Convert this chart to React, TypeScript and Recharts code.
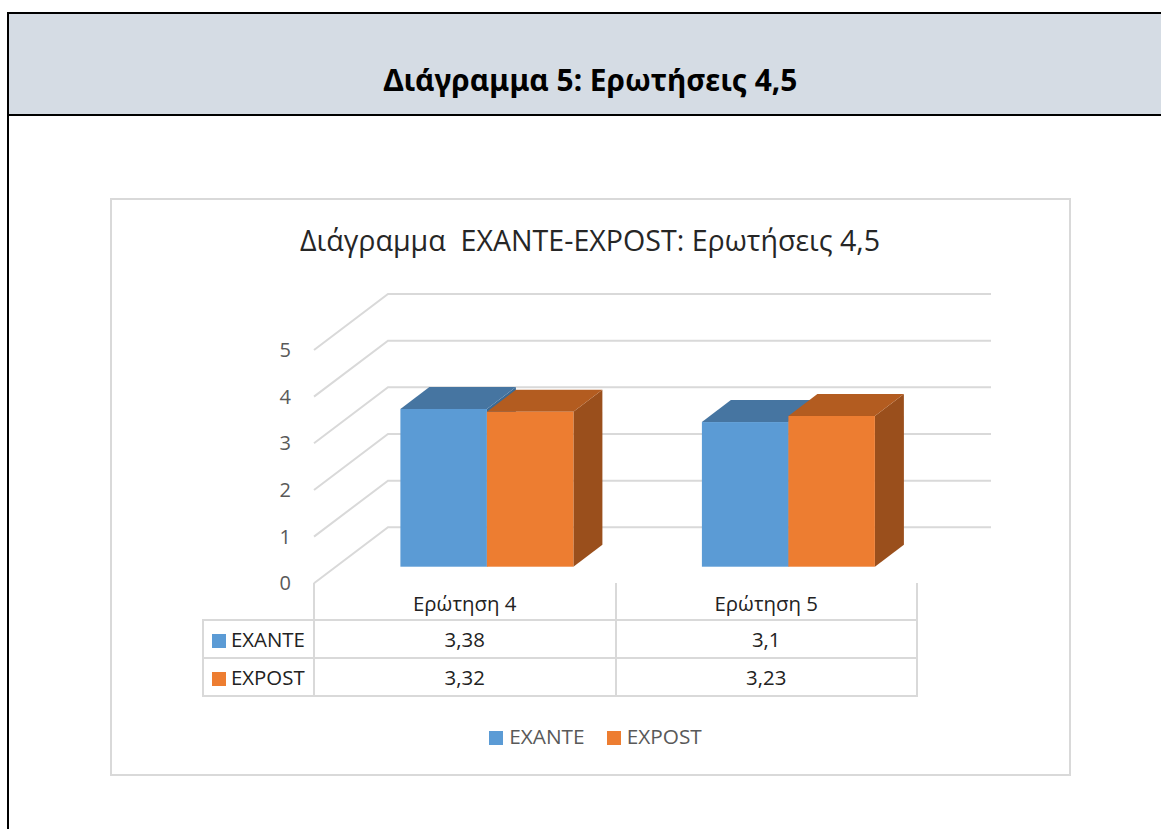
import React from 'react'
import { BarChart, Bar, XAxis, YAxis, CartesianGrid, Legend } from 'recharts'

const categories = ['Ερώτηση 4', 'Ερώτηση 5']
const exante = [3.38, 3.1]
const expost = [3.32, 3.23]
const yTicks = [0, 1, 2, 3, 4, 5]

const data = categories.map((name, i) => ({ name, EXANTE: exante[i], EXPOST: expost[i] }))

const BLUE = '#5B9BD5'
const ORANGE = '#ED7D31'
const FONT = '"Open Sans", sans-serif'
const GRID = '#d9d9d9'

// fake 3D: bars sit a little inside the floor, back wall is offset from the front axis
const BAR_DX = 22.4
const BAR_DY = -16.6
const DEPTH_X = 29
const DEPTH_Y = -22
const WALL_X = 74
const WALL_Y = -56

const makeBox = (front: string, top: string, side: string) => (props: any) => {
  const x = props.x + BAR_DX
  const y = props.y + BAR_DY
  const { width: w, height: h } = props
  return (
    <g>
      <path d={`M${x + w},${y} l${DEPTH_X},${DEPTH_Y} v${h} l${-DEPTH_X},${-DEPTH_Y} z`} fill={side} />
      <path d={`M${x},${y} l${DEPTH_X},${DEPTH_Y} h${w} l${-DEPTH_X},${-DEPTH_Y} z`} fill={top} />
      <rect x={x} y={y} width={w} height={h} fill={front} />
    </g>
  )
}

const wallLine = (props: any) => {
  const { x1, y1, x2 } = props
  return (
    <polyline
      key={props.key ?? y1}
      points={`${x1},${y1} ${x1 + WALL_X},${y1 + WALL_Y} ${x2 + WALL_X},${y1 + WALL_Y}`}
      fill="none"
      stroke={GRID}
      strokeWidth={2}
    />
  )
}

const cell: React.CSSProperties = { border: `2px solid ${GRID}`, padding: 0, textAlign: 'center' }
const swatch = (color: string): React.CSSProperties => ({
  display: 'inline-block',
  width: 14,
  height: 14,
  background: color,
  marginLeft: 8,
  marginRight: 5,
  verticalAlign: -1,
})

const rows = [
  { label: 'EXANTE', color: BLUE, values: exante },
  { label: 'EXPOST', color: ORANGE, values: expost },
]

export default function App() {
  return (
    <div style={{ position: 'absolute', left: 0, top: 0, width: 1161, height: 829, overflow: 'hidden', background: '#fff', fontFamily: FONT }}>
      <div
        style={{
          position: 'absolute',
          left: 7,
          top: 12,
          width: 1160,
          height: 100,
          background: '#D5DCE4',
          borderTop: '2px solid #000',
          borderBottom: '2px solid #000',
          borderLeft: '2px solid #000',
        }}
      />
      <div style={{ position: 'absolute', left: 7, top: 12, width: 2, height: 817, background: '#000' }} />
      <div style={{ position: 'absolute', left: 0, width: 1181, top: 62, textAlign: 'center', fontFamily: '"Noto Sans", sans-serif', fontWeight: 700, fontSize: 29.9, lineHeight: '36px', color: '#000' }}>
        Διάγραμμα 5: Ερωτήσεις 4,5
      </div>

      <div style={{ position: 'absolute', left: 110, top: 198, width: 957, height: 574, border: `2px solid ${GRID}` }} />
      <div style={{ position: 'absolute', left: 110, width: 960, top: 218, textAlign: 'center', fontSize: 28.6, lineHeight: '44px', color: '#262626', whiteSpace: 'pre' }}>
        Διάγραμμα  EXANTE-EXPOST: Ερωτήσεις 4,5
      </div>

      <table style={{ position: 'absolute', left: 202, top: 583, width: 714, borderCollapse: 'collapse', tableLayout: 'fixed', fontSize: 20.4, color: '#222' }}>
        <colgroup>
          <col style={{ width: 111 }} />
          <col style={{ width: 301.5 }} />
          <col style={{ width: 301.5 }} />
        </colgroup>
        <tbody>
          <tr style={{ height: 37 }}>
            <td style={{ ...cell, borderTop: 'none', borderLeft: 'none' }} />
            <td style={{ ...cell, borderTop: 'none' }} />
            <td style={{ ...cell, borderTop: 'none', borderRight: `2px solid ${GRID}` }} />
          </tr>
          {rows.map((r) => (
            <tr key={r.label} style={{ height: 38 }}>
              <td style={{ ...cell, textAlign: 'left', whiteSpace: 'nowrap' }}>
                <span style={swatch(r.color)} />
                {r.label}
              </td>
              {r.values.map((v, i) => (
                <td key={i} style={cell}>
                  {String(v).replace('.', ',')}
                </td>
              ))}
            </tr>
          ))}
        </tbody>
      </table>

      <div style={{ position: 'absolute', left: 0, top: 0 }}>
        <BarChart
          width={1161}
          height={829}
          data={data}
          margin={{ top: 350, right: 244, bottom: 208.7, left: 254 }}
          barSize={86.5}
          barGap={0}
        >
          <CartesianGrid vertical={false} horizontal={wallLine} />
          <XAxis
            dataKey="name"
            height={37}
            axisLine={false}
            tickLine={false}
            tick={{ fontSize: 20.4, fill: '#222', fontFamily: FONT }}
            tickMargin={7}
            interval={0}
          />
          <YAxis
            width={60}
            domain={[0, 5]}
            ticks={yTicks}
            axisLine={false}
            tickLine={false}
            tickMargin={17}
            tick={{ fontSize: 20, fill: '#595959', fontFamily: FONT }}
          />
          <Legend
            layout="horizontal"
            align="center"
            verticalAlign="middle"
            iconType="square"
            iconSize={14}
            wrapperStyle={{ left: 122, top: 722, width: 969, fontSize: 20.8, fontFamily: FONT }}
            formatter={(value: string) => <span style={{ color: '#595959', marginLeft: 2, marginRight: 12 }}>{value}</span>}
          />
          <Bar dataKey="EXANTE" fill={BLUE} isAnimationActive={false} shape={makeBox(BLUE, '#4675A1', '#3B6A94')} />
          <Bar dataKey="EXPOST" fill={ORANGE} isAnimationActive={false} shape={makeBox(ORANGE, '#B35C20', '#9A4F1C')} />
        </BarChart>
      </div>
    </div>
  )
}
